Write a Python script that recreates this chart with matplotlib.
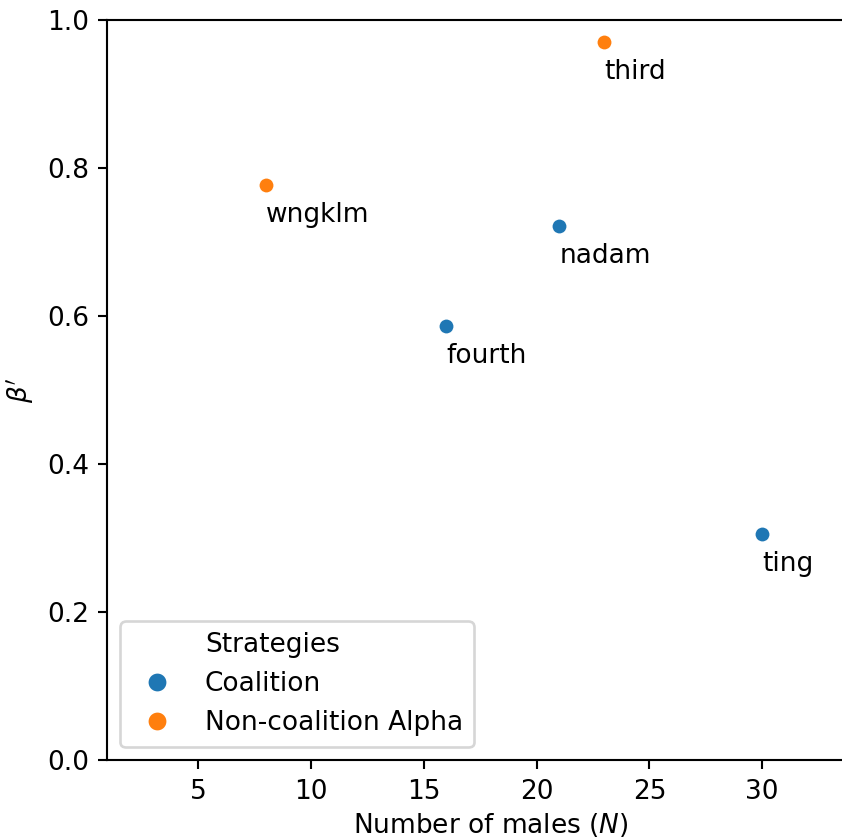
import matplotlib
matplotlib.use('Agg')
import matplotlib.pyplot as plt
from matplotlib.lines import Line2D

# data
names = ['wngklm', 'third', 'nadam', 'fourth', 'ting']
n_males = [8, 23, 21, 16, 30]
beta = [0.777, 0.970, 0.722, 0.586, 0.305]
strategy = ['Non-coalition Alpha', 'Non-coalition Alpha',
            'Coalition', 'Coalition', 'Coalition']

strategies = ['Coalition', 'Non-coalition Alpha']
colours = {'Coalition': '#1f77b4', 'Non-coalition Alpha': '#ff7f0e'}

DPI = 190
fig = plt.figure(figsize=(842 / DPI, 840 / DPI), dpi=DPI)
ax = fig.add_axes([0.1274, 0.0952, 0.9118, 0.881])

for s in strategies:
    xs = [x for x, st in zip(n_males, strategy) if st == s]
    ys = [y for y, st in zip(beta, strategy) if st == s]
    ax.scatter(xs, ys, s=36, color=colours[s], edgecolor='white',
               linewidth=0.75, zorder=3)

for name, x, y in zip(names, n_males, beta):
    ax.text(x, y - 0.05, name, fontsize=10)

ax.set_xlim(0.97, 35)
ax.set_ylim(0, 1.0)
ax.set_xticks([5, 10, 15, 20, 25, 30])
ax.set_yticks([0.0, 0.2, 0.4, 0.6, 0.8, 1.0])
ax.set_xlabel('Number of males ($N$)', labelpad=2.5)
ax.set_ylabel(r"$\beta'$")

handles = [Line2D([], [], linestyle='none', marker='')]
labels = ['Strategies']
for s in strategies:
    handles.append(Line2D([], [], linestyle='none', marker='o',
                          markersize=7.5, color=colours[s],
                          markeredgecolor='white', markeredgewidth=0.75))
    labels.append(s)
ax.legend(handles, labels, loc='lower left')

fig.savefig('out.png', dpi=DPI)
